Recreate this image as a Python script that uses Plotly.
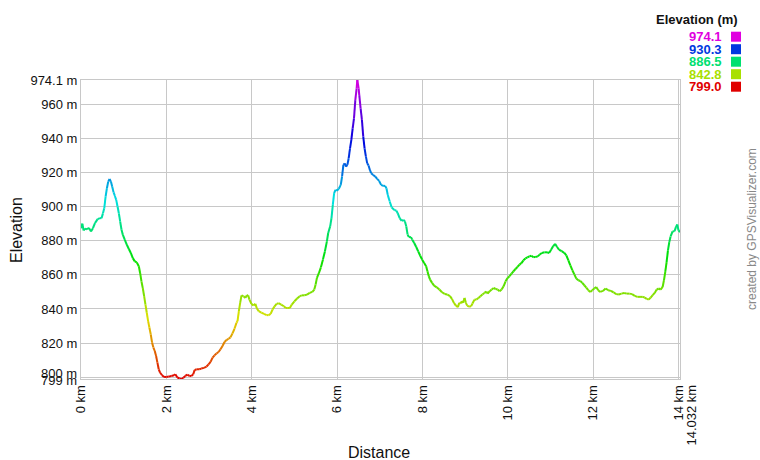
import colorsys
import plotly.graph_objects as go

# ---------------- data ----------------
distance_km = [
    0.000, 0.031, 0.062, 0.093, 0.140, 0.187, 0.233, 0.280, 0.327, 0.389, 0.444, 0.482, 0.514, 0.545,
    0.576, 0.607, 0.638, 0.669, 0.700, 0.732, 0.763, 0.794, 0.825, 0.856, 0.887, 0.918, 0.949, 0.981,
    1.027, 1.074, 1.121, 1.167, 1.214, 1.261, 1.307, 1.354, 1.385, 1.416, 1.447, 1.479, 1.510, 1.541,
    1.572, 1.603, 1.634, 1.665, 1.696, 1.728, 1.759, 1.790, 1.821, 1.852, 1.899, 1.946, 2.000, 2.054,
    2.117, 2.179, 2.210, 2.257, 2.304, 2.350, 2.397, 2.444, 2.490, 2.537, 2.584, 2.630, 2.661, 2.708,
    2.770, 2.817, 2.879, 2.942, 2.988, 3.035, 3.082, 3.128, 3.175, 3.222, 3.268, 3.315, 3.362, 3.409,
    3.455, 3.502, 3.549, 3.595, 3.642,
    3.667, 3.698, 3.729, 3.760, 3.806, 3.853, 3.884, 3.915, 3.946, 3.992, 4.039, 4.085, 4.116, 4.163,
    4.225, 4.287, 4.349, 4.395, 4.442, 4.488, 4.535, 4.581, 4.628, 4.690, 4.752, 4.798, 4.845, 4.891,
    4.938, 5.000, 5.062, 5.124, 5.171, 5.233, 5.295, 5.357, 5.419, 5.465, 5.496, 5.527, 5.574, 5.620,
    5.667, 5.713, 5.760, 5.791, 5.837, 5.868, 5.899, 5.930, 5.961, 5.992, 6.039, 6.085, 6.116, 6.147,
    6.178, 6.209, 6.240, 6.271, 6.302, 6.333, 6.364, 6.395, 6.426, 6.457, 6.473, 6.504, 6.519, 6.550,
    6.581, 6.612, 6.643, 6.674, 6.705, 6.736, 6.767, 6.798, 6.845, 6.891, 6.938, 6.984, 7.031, 7.078,
    7.124, 7.155, 7.186, 7.233, 7.279,
    7.341, 7.388, 7.419, 7.465, 7.512, 7.558, 7.589, 7.620, 7.651, 7.682, 7.729, 7.760, 7.806, 7.853,
    7.899, 7.946, 7.992, 8.039, 8.085, 8.116, 8.147, 8.178, 8.225, 8.271, 8.333, 8.395, 8.457, 8.519,
    8.581, 8.643, 8.690, 8.736, 8.783, 8.829, 8.860, 8.891, 8.922, 8.953, 8.984, 9.016, 9.047, 9.093,
    9.140, 9.171, 9.217, 9.264, 9.310, 9.357, 9.403, 9.450, 9.496, 9.527, 9.574, 9.620, 9.667, 9.713,
    9.760, 9.806, 9.853, 9.899, 9.946, 9.992, 10.039, 10.085, 10.132, 10.178, 10.225, 10.271, 10.318,
    10.364, 10.411, 10.457, 10.504, 10.550, 10.597, 10.643,
    10.701, 10.748, 10.795, 10.857, 10.919, 10.966, 11.012, 11.059, 11.106, 11.152, 11.199, 11.261,
    11.323, 11.370, 11.417, 11.463, 11.510, 11.557, 11.603, 11.650, 11.697, 11.743, 11.790, 11.837,
    11.883, 11.930, 11.977, 12.023, 12.070, 12.117, 12.163, 12.226, 12.288, 12.350, 12.412, 12.474,
    12.537, 12.599, 12.661, 12.723, 12.785, 12.848, 12.910, 12.972, 13.034, 13.096, 13.159, 13.205,
    13.252, 13.299, 13.345, 13.392, 13.439, 13.485, 13.532, 13.579, 13.625, 13.656, 13.687, 13.718,
    13.750, 13.781, 13.812, 13.858, 13.905, 13.936, 13.967, 13.998, 14.032,
]
elevation_m = [
    887.3, 890.0, 886.0, 887.0, 886.7, 887.5, 885.4, 887.3, 890.3, 892.6, 893.2, 893.2, 896.0, 899.0,
    905.8, 910.7, 914.6, 916.1, 914.6, 911.6, 908.3, 906.2, 903.9, 900.0, 896.0, 891.2, 886.4, 883.4,
    880.5, 877.6, 875.1, 872.8, 869.8, 867.9, 867.3, 865.0, 861.1, 856.2, 852.3, 847.5, 842.6, 837.8,
    832.9, 829.0, 825.1, 820.3, 817.4, 815.4, 812.5, 808.6, 804.7, 802.8, 801.2, 800.2, 800.2, 800.4,
    800.8, 801.2, 801.8, 799.9, 799.3, 799.0, 799.7, 800.8, 801.6, 800.8, 800.8, 801.8, 804.2, 804.7,
    804.7, 805.1, 805.5, 806.3, 807.6, 809.0, 811.5, 812.9, 813.9, 814.8, 816.4, 818.3, 820.7, 821.8,
    822.6, 823.4, 825.7, 828.4, 831.9,
    832.9, 838.7, 843.6, 848.0, 847.5, 846.5, 848.0, 848.0, 845.5, 843.0, 842.0, 843.0, 840.6, 838.7,
    837.9, 837.1, 836.4, 836.4, 837.1, 839.7, 841.6, 843.0, 843.4, 842.6, 841.6, 840.6, 840.6, 840.6,
    842.6, 844.5, 846.1, 847.5, 848.0, 848.0, 848.4, 849.4, 850.0, 851.4, 854.3, 858.2, 861.1, 864.4,
    868.9, 873.7, 879.6, 884.5, 888.4, 893.2, 901.0, 907.8, 909.8, 909.2, 910.4, 912.7, 917.6, 924.4,
    925.3, 923.4, 924.4, 928.3, 934.1, 939.0, 945.8, 951.6, 962.3, 969.2, 974.1, 969.2, 965.3, 957.5,
    950.7, 940.9, 934.1, 929.2, 925.3, 924.0, 921.4, 919.5, 918.5, 917.6, 916.2, 915.0, 912.7, 912.1,
    912.1, 910.7, 906.8, 902.9, 899.4,
    898.0, 897.6, 896.1, 893.2, 891.6, 892.2, 891.2, 888.3, 883.5, 882.1, 882.1, 880.6, 878.6, 876.3,
    873.7, 871.2, 868.9, 866.9, 865.0, 862.1, 859.2, 857.2, 855.3, 853.7, 852.7, 851.4, 849.8, 848.8,
    848.5, 847.5, 845.9, 843.6, 842.0, 841.1, 843.6, 843.2, 844.6, 843.6, 846.5, 843.6, 842.0, 841.3,
    841.7, 843.2, 845.5, 845.5, 846.5, 847.5, 848.5, 849.4, 850.2, 849.0, 850.4, 851.4, 852.3, 851.7,
    851.4, 850.4, 851.4, 853.3, 856.2, 858.2, 859.2, 860.7, 862.1, 863.4, 864.6, 866.0, 866.9,
    868.5, 869.6, 870.2, 870.8, 871.2, 870.4, 870.4,
    870.8, 872.0, 872.8, 873.2, 873.2, 872.8, 874.7, 876.7, 878.2, 876.3, 874.7, 873.9,
    872.8, 871.4, 868.5, 865.6, 862.7, 860.3, 857.8, 856.8, 856.4, 855.3, 853.9, 852.5,
    851.0, 850.0, 851.0, 852.0, 852.9, 851.0, 850.0, 850.6, 852.0, 851.0, 850.6, 849.8,
    848.7, 848.5, 849.0, 849.4, 849.0, 849.0, 848.7, 847.7, 847.1, 847.1, 847.1, 846.7,
    845.9, 845.5, 846.7, 848.1, 849.4, 851.4, 852.0, 851.4, 852.9, 856.8, 861.7, 867.5,
    874.3, 879.2, 882.5, 885.4, 885.6, 887.9, 889.5, 886.0, 885.0,
]

y_tick_values = [799, 800, 820, 840, 860, 880, 900, 920, 940, 960, 974.1]
y_tick_labels = ["799 m", "800 m", "820 m", "840 m", "860 m", "880 m", "900 m",
                 "920 m", "940 m", "960 m", "974.1 m"]
# the two crowded labels at the bottom are nudged apart, like the reference
y_nudged = {799: -1.5, 800: 3.5}
x_tick_values = [0, 2, 4, 6, 8, 10, 12, 14]
x_tick_labels = ["0 km", "2 km", "4 km", "6 km", "8 km", "10 km", "12 km", "14 km"]
x_end_value = 14.032
x_end_label = "14.032 km"
legend_values = [974.1, 930.3, 886.5, 842.8, 799.0]

E_MIN, E_MAX = 799.0, 974.1


def elev_color(e):
    t = (e - E_MIN) / (E_MAX - E_MIN)
    t = min(max(t, 0.0), 1.0)
    r, g, b = colorsys.hsv_to_rgb(t * 300.0 / 360.0, 1.0, 0.88)
    return "rgb(%d,%d,%d)" % (round(r * 255), round(g * 255), round(b * 255))


# ------------- figure geometry -------------
W, H = 760, 460
L, R, T, B = 81, 80, 80, 81
PW, PH = W - L - R, H - T - B


def px_x(p):
    return (p - L) / PW


def px_y(p):
    return (H - B - p) / PH


FONT = "Arial, Liberation Sans, sans-serif"
TXT = "#111"

fig = go.Figure()

# colored line: group segments by quantized color
N_LEVELS = 120
groups = {}
for i in range(len(distance_km) - 1):
    mid = 0.5 * (elevation_m[i] + elevation_m[i + 1])
    lvl = round((mid - E_MIN) / (E_MAX - E_MIN) * N_LEVELS)
    groups.setdefault(lvl, ([], []))
    gx, gy = groups[lvl]
    gx += [distance_km[i], distance_km[i + 1], None]
    gy += [elevation_m[i], elevation_m[i + 1], None]

for lvl in sorted(groups):
    gx, gy = groups[lvl]
    e = E_MIN + lvl / N_LEVELS * (E_MAX - E_MIN)
    fig.add_trace(go.Scatter(
        x=gx, y=gy, mode="lines",
        line=dict(color=elev_color(e), width=2),
        hoverinfo="skip", showlegend=False, connectgaps=False,
    ))

GRID = "#c8c8c8"
y_text_axis = ["" if v in y_nudged else t for v, t in zip(y_tick_values, y_tick_labels)]
fig.update_layout(
    width=W, height=H,
    margin=dict(l=L, r=R, t=T, b=B, pad=0),
    paper_bgcolor="white", plot_bgcolor="white",
    font=dict(family=FONT, size=13, color=TXT),
    showlegend=False,
    xaxis=dict(
        range=[0, x_end_value], tickmode="array",
        tickvals=x_tick_values, ticktext=x_tick_labels,
        tickangle=-90, showgrid=True, gridcolor=GRID, gridwidth=1,
        showline=True, linecolor=GRID, linewidth=1, mirror=True,
        zeroline=False, ticks="", ticklen=0,
        tickfont=dict(family=FONT, size=13, color=TXT),
    ),
    yaxis=dict(
        range=[E_MIN, E_MAX], tickmode="array",
        tickvals=y_tick_values, ticktext=y_text_axis,
        showgrid=True, gridcolor=GRID, gridwidth=1,
        showline=True, linecolor=GRID, linewidth=1, mirror=True,
        zeroline=False, ticks="", ticklen=0,
        tickfont=dict(family=FONT, size=13, color=TXT),
    ),
)

annotations = [
    dict(text=x_end_label, x=x_end_value, xref="x", y=0, yref="paper",
         xanchor="center", yanchor="top", yshift=-4, xshift=11, textangle=-90,
         showarrow=False, font=dict(family=FONT, size=13, color=TXT)),
    dict(text="Elevation", x=px_x(16), xref="paper", y=px_y(230), yref="paper",
         xanchor="center", yanchor="middle", textangle=-90, showarrow=False,
         font=dict(family=FONT, size=16, color=TXT)),
    dict(text="Distance", x=px_x(379), xref="paper", y=px_y(452), yref="paper",
         xanchor="center", yanchor="middle", showarrow=False,
         font=dict(family=FONT, size=16, color=TXT)),
    dict(text="created by GPSVisualizer.com", x=px_x(752), xref="paper",
         y=px_y(229), yref="paper", xanchor="center", yanchor="middle",
         textangle=-90, showarrow=False,
         font=dict(family=FONT, size=12, color="#888")),
    dict(text="<b>Elevation (m)</b>", x=px_x(740), xref="paper", y=px_y(20),
         yref="paper", xanchor="right", yanchor="middle", showarrow=False,
         font=dict(family=FONT, size=13, color=TXT)),
]
for v, t in zip(y_tick_values, y_tick_labels):
    if v in y_nudged:
        annotations.append(dict(
            text=t, x=0, xref="paper", y=v, yref="y", xanchor="right",
            yanchor="middle", xshift=-2, yshift=y_nudged[v], showarrow=False,
            font=dict(family=FONT, size=13, color=TXT)))

shapes = []
row_y = [36.7, 49.2, 61.7, 74.2, 86.7]
for v, ry in zip(legend_values, row_y):
    c = elev_color(v)
    annotations.append(dict(
        text="<b>%.1f</b>" % v, x=px_x(724), xref="paper", y=px_y(ry), yref="paper",
        xanchor="right", yanchor="middle", showarrow=False,
        font=dict(family=FONT, size=13, color=c)))
    shapes.append(dict(
        type="rect", xref="paper", yref="paper",
        x0=px_x(731), x1=px_x(741), y0=px_y(ry + 5), y1=px_y(ry - 5),
        fillcolor=c, line=dict(width=0)))

fig.update_layout(annotations=annotations, shapes=shapes)
fig.write_html("out.html", config={"displayModeBar": False},
               post_script="document.body.style.margin='0';document.body.style.overflow='hidden';")
